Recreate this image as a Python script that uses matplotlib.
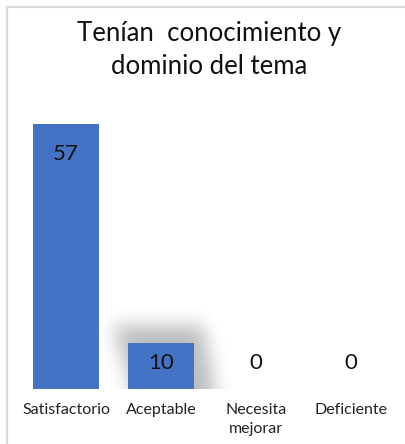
import matplotlib
matplotlib.use("Agg")
import numpy as np
import matplotlib.pyplot as plt
from matplotlib.patches import Rectangle

categories = ["Satisfactorio", "Aceptable", "Necesita\nmejorar", "Deficiente"]
values = [57, 10, 0, 0]
title = "Tenían  conocimiento y\ndominio del tema"

plt.rcParams['font.family'] = ['Lato', 'DejaVu Sans']

W, H = 405, 444
fig = plt.figure(figsize=(W / 100, H / 100), dpi=100)

# outer frame (extends past right/bottom edge like the cropped reference)
fig.patches.append(Rectangle((7 / W, -0.05), 1.2, (H - 7) / H + 0.05, transform=fig.transFigure,
                             fill=False, edgecolor="#d9d9d9", linewidth=1.6, zorder=0))

left_px, right_px = 18.5, 398.5
base_px, top_px = 389, 110
ax = fig.add_axes([left_px / W, (H - base_px) / H, (right_px - left_px) / W, (base_px - top_px) / H])
ax.set_xlim(-0.5, 3.5)
ax.set_ylim(0, 60)
ax.patch.set_alpha(0)

x = list(range(len(categories)))
bw = 0.705
ux = 1 / 95.0                     # data units per pixel (x)
uy = 60 / (base_px - top_px)      # data units per pixel (y)


def gblur(a, sigma):
    r = int(3 * sigma)
    k = np.exp(-0.5 * (np.arange(-r, r + 1) / sigma) ** 2)
    k /= k.sum()
    a = np.apply_along_axis(lambda m: np.convolve(m, k, mode="same"), 0, a)
    a = np.apply_along_axis(lambda m: np.convolve(m, k, mode="same"), 1, a)
    return a


# soft shadow behind the "Aceptable" bar (as in the reference)
si = 1
v = values[si]
pad = 50
x0 = x[si] - bw / 2 - pad * ux
x1 = x[si] + bw / 2 + pad * ux
y0 = 0
y1 = v + pad * uy
nx = int(round((x1 - x0) / ux))
ny = int(round((y1 - y0) / uy))
xs = x0 + (np.arange(nx) + 0.5) * ux
ys = y0 + (np.arange(ny) + 0.5) * uy
XX, YY = np.meshgrid(xs, ys)
# skewed shadow: shifted up-left at the top, right at the bottom
frac = np.clip(YY / (v + 18 * uy), 0, 1)
left_edge = x[si] - bw / 2 + (4 - 20 * frac) * ux
right_edge = x[si] + bw / 2 + (20 - 12 * frac) * ux
mask = ((XX > left_edge) & (XX < right_edge) & (YY < v + 17 * uy)).astype(float)
mask = np.vstack([np.repeat(mask[:1], 40, axis=0), mask])
mask = gblur(mask, 9.0)[40:]
rgba = np.zeros((ny, nx, 4))
rgba[..., 3] = mask * 0.26
ax.imshow(rgba, extent=(x0, x1, y0, y1), origin="lower", aspect="auto",
          interpolation="bilinear", zorder=1)
ax.set_xlim(-0.5, 3.5)
ax.set_ylim(0, 60)

bars = ax.bar(x, values, width=bw, color="#4472C4", zorder=3)

for xi, val in zip(x, values):
    y = val - 30 * uy
    if y < 26 * uy:
        y = 26 * uy
    ax.text(xi, y, str(val), ha="center", va="center", fontsize=16, color="#111111", zorder=4)

ax.set_xticks(x)
ax.set_xticklabels(categories, fontsize=11.5, color="#222222", linespacing=1.5)
ax.tick_params(axis="x", length=0, pad=10)
ax.set_yticks([])
for s in ax.spines.values():
    s.set_visible(False)

fig.text(209 / W, 1 - 50 / H, title, ha="center", va="center", fontsize=18.5,
         color="#111111", linespacing=1.45, multialignment="center")

fig.savefig("out.png", dpi=100)
